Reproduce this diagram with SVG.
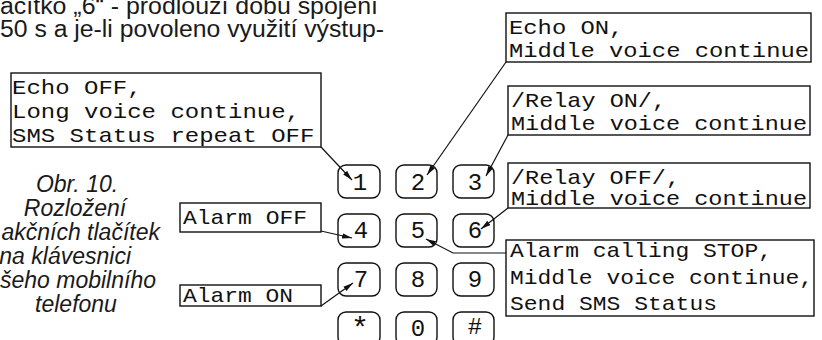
<svg xmlns="http://www.w3.org/2000/svg" width="822" height="340" viewBox="0 0 822 340">
<defs>
<style>
.body{font-family:"Liberation Sans",Arial,sans-serif;font-size:23px;fill:#1a1a1a}
.cap{font-family:"Liberation Sans",Arial,sans-serif;font-size:23px;font-style:italic;fill:#1a1a1a;text-anchor:middle}
.cape{font-family:"Liberation Sans",Arial,sans-serif;font-size:23px;font-style:italic;fill:#1a1a1a;text-anchor:end}
.m{font-family:"Liberation Mono","DejaVu Sans Mono",monospace;font-size:21px;fill:#111}
.k{font-family:"Liberation Mono","DejaVu Sans Mono",monospace;font-size:24px;fill:#111;text-anchor:middle}
.box{fill:none;stroke:#111;stroke-width:1.4}
.key{fill:none;stroke:#111;stroke-width:1.4}
.con{fill:none;stroke:#111;stroke-width:1.2;marker-end:url(#ah)}
</style>
<marker id="ah" markerUnits="userSpaceOnUse" markerWidth="11" markerHeight="7" refX="10" refY="3.5" orient="auto">
<path d="M0,0.8 L10,3.5 L0,6.2 z" fill="#111"/>
</marker>
</defs>
<rect width="822" height="340" fill="#fff"/>

<g id="body-text">
<text class="body" x="0" y="14" textLength="378" lengthAdjust="spacingAndGlyphs">ačítko „6“ - prodlouží dobu spojení</text>
<text class="body" x="0" y="37" textLength="384" lengthAdjust="spacingAndGlyphs">50 s a je-li povoleno využití výstup-</text>
</g>

<g id="caption">
<text class="cap" x="77" y="192">Obr. 10.</text>
<text class="cap" x="75" y="216">Rozložení</text>
<text class="cape" x="160" y="240">akčních tlačítek</text>
<text class="cape" x="131" y="264">na klávesnici</text>
<text class="cape" x="156" y="288">vašeho mobilního</text>
<text class="cap" x="76" y="312">telefonu</text>
</g>

<g id="box-echo-off">
<rect class="box" x="11" y="73" width="310" height="74"/>
<text class="m" x="12" y="94" textLength="129.6" lengthAdjust="spacingAndGlyphs">Echo OFF,</text>
<text class="m" x="12" y="118" textLength="288" lengthAdjust="spacingAndGlyphs">Long voice continue,</text>
<text class="m" x="12" y="142" textLength="302.4" lengthAdjust="spacingAndGlyphs">SMS Status repeat OFF</text>
</g>

<g id="box-echo-on">
<rect class="box" x="506" y="13" width="305" height="49"/>
<text class="m" x="509" y="34" textLength="114.4" lengthAdjust="spacingAndGlyphs">Echo ON,</text>
<text class="m" x="509" y="57" textLength="300" lengthAdjust="spacingAndGlyphs">Middle voice continue</text>
</g>

<g id="box-relay-on">
<rect class="box" x="508" y="86" width="302" height="49"/>
<text class="m" x="511" y="107" textLength="155" lengthAdjust="spacingAndGlyphs">/Relay ON/,</text>
<text class="m" x="511" y="130" textLength="296" lengthAdjust="spacingAndGlyphs">Middle voice continue</text>
</g>

<g id="box-relay-off">
<rect class="box" x="508" y="163" width="302" height="45"/>
<text class="m" x="511" y="184" textLength="169" lengthAdjust="spacingAndGlyphs">/Relay OFF/,</text>
<text class="m" x="511" y="205" textLength="296" lengthAdjust="spacingAndGlyphs">Middle voice continue</text>
</g>

<g id="box-alarm-stop">
<rect class="box" x="506" y="240" width="308" height="76"/>
<text class="m" x="510" y="257" textLength="262" lengthAdjust="spacingAndGlyphs">Alarm calling STOP,</text>
<text class="m" x="510" y="284" textLength="303" lengthAdjust="spacingAndGlyphs">Middle voice continue,</text>
<text class="m" x="510" y="310" textLength="207" lengthAdjust="spacingAndGlyphs">Send SMS Status</text>
</g>

<g id="box-alarm-off">
<rect class="box" x="180" y="203" width="141" height="29"/>
<text class="m" x="183" y="224" textLength="124" lengthAdjust="spacingAndGlyphs">Alarm OFF</text>
</g>

<g id="box-alarm-on">
<rect class="box" x="180" y="285" width="141" height="21"/>
<text class="m" x="183" y="302" textLength="110" lengthAdjust="spacingAndGlyphs">Alarm ON</text>
</g>

<g id="keypad">
<g id="key-1"><rect class="key" x="338" y="165" width="42" height="33" rx="8"/><text class="k" x="360" y="190">1</text></g>
<g id="key-2"><rect class="key" x="396" y="165" width="41" height="33" rx="8"/><text class="k" x="418" y="190">2</text></g>
<g id="key-3"><rect class="key" x="453" y="165" width="41" height="33" rx="8"/><text class="k" x="475" y="190">3</text></g>
<g id="key-4"><rect class="key" x="338" y="214" width="42" height="33" rx="8"/><text class="k" x="361" y="238">4</text></g>
<g id="key-5"><rect class="key" x="396" y="214" width="41" height="33" rx="8"/><text class="k" x="418" y="238">5</text></g>
<g id="key-6"><rect class="key" x="453" y="214" width="41" height="33" rx="8"/><text class="k" x="475" y="238">6</text></g>
<g id="key-7"><rect class="key" x="338" y="263" width="42" height="33" rx="8"/><text class="k" x="361" y="287">7</text></g>
<g id="key-8"><rect class="key" x="396" y="263" width="41" height="33" rx="8"/><text class="k" x="418" y="287">8</text></g>
<g id="key-9"><rect class="key" x="453" y="263" width="41" height="33" rx="8"/><text class="k" x="475" y="287">9</text></g>
<g id="key-star"><rect class="key" x="338" y="312" width="42" height="33" rx="8"/><text class="k" x="360" y="338" style="font-size:30px">*</text></g>
<g id="key-0"><rect class="key" x="396" y="312" width="41" height="33" rx="8"/><text class="k" x="418" y="336">0</text></g>
<g id="key-hash"><rect class="key" x="453" y="312" width="41" height="33" rx="8"/><text class="k" x="475" y="334">#</text></g>
</g>

<g id="connectors">
<path class="con" d="M321,147 L352,180"/>
<path class="con" d="M506,62 L427,175"/>
<path class="con" d="M508,135 L486,176"/>
<path class="con" d="M508,208 L481,229"/>
<path class="con" d="M506,253 L453,253 L426,239"/>
<path class="con" d="M321,231 L352,238"/>
<path class="con" d="M321,306 L353,283"/>
</g>
</svg>
